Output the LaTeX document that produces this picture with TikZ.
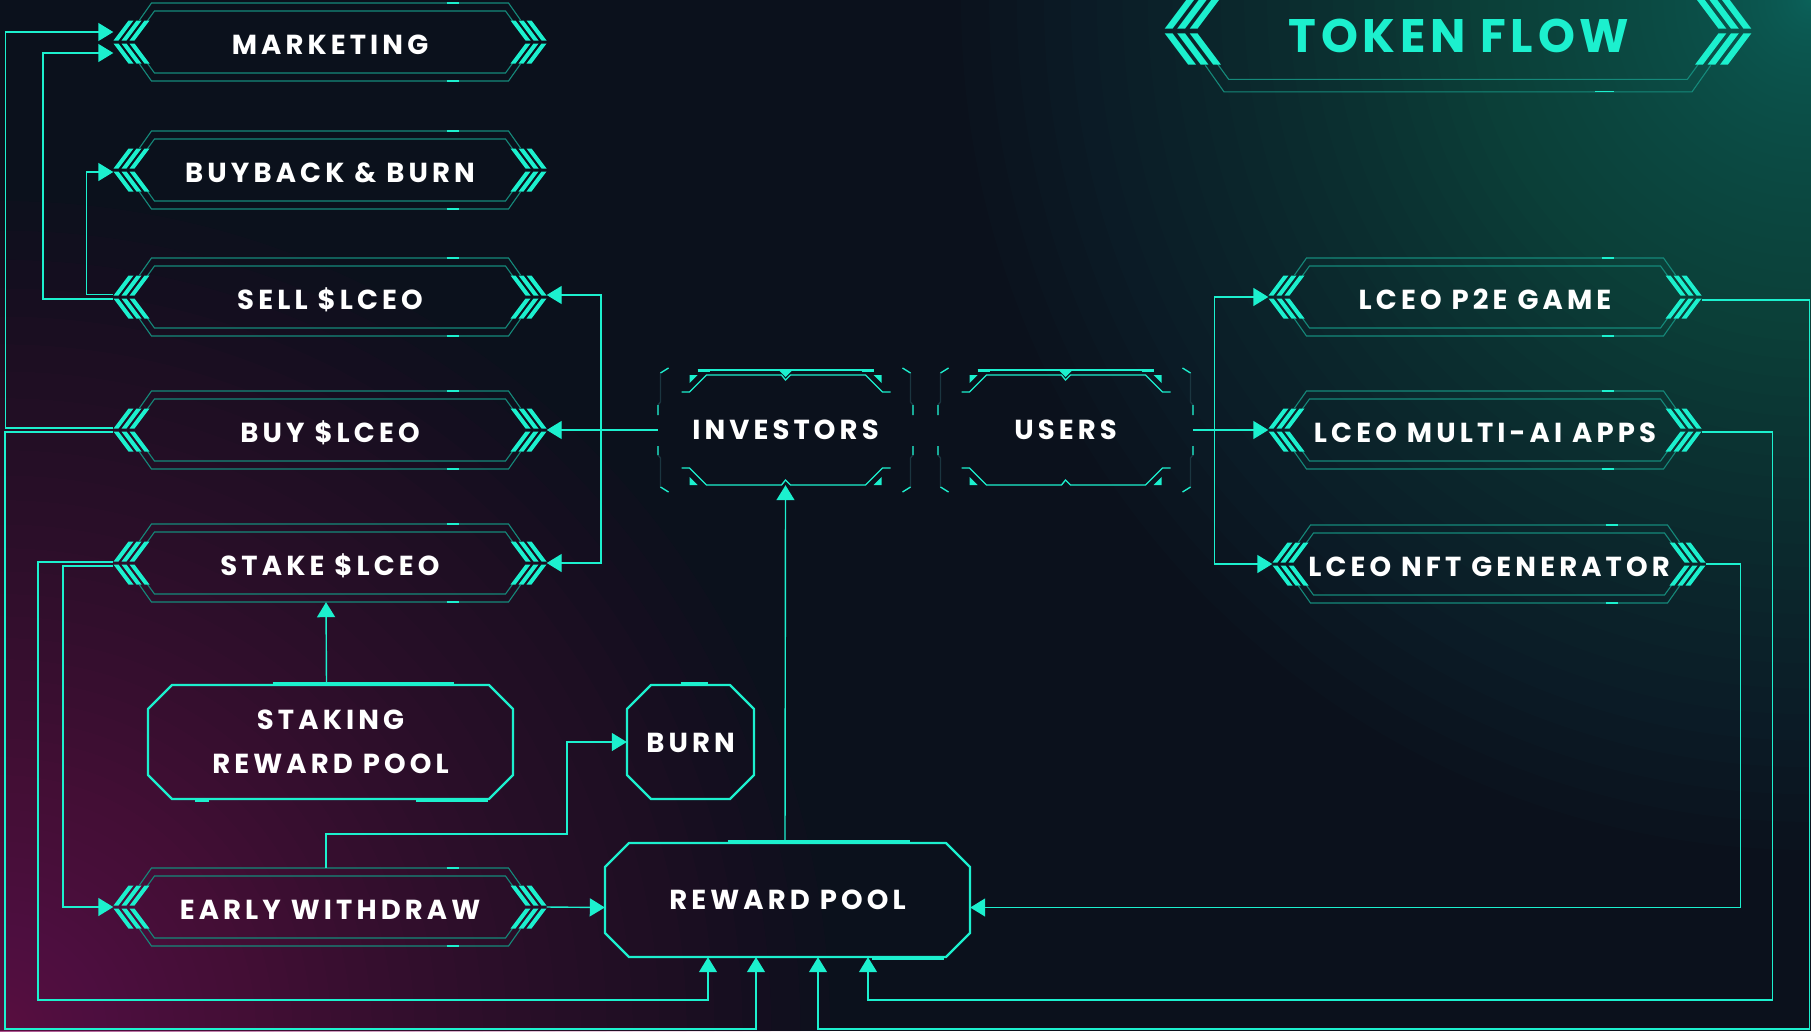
\documentclass[tikz,border=0pt]{standalone}
\usepackage{fontspec}
\setmainfont{Poppins}
\newfontfamily\labelfont{Poppins}[LetterSpace=15]
\newfontfamily\titlefont{Poppins}[LetterSpace=10]
\usetikzlibrary{arrows.meta}
\definecolor{bgnavy}{HTML}{0B111C}
\definecolor{neon}{HTML}{1CF0CE}
\definecolor{dimteal}{HTML}{15897A}
\definecolor{dimline}{HTML}{1B3640}
\definecolor{glowpink}{HTML}{8A0E63}
\definecolor{glowteal}{HTML}{1BA48A}

\tikzset{
  flow/.style={neon, line width=1.4pt, -{Triangle[width=18pt,length=15pt]}},
  boxtext/.style={text=white, inner sep=0pt, font=\labelfont\bfseries\fontsize{27.5}{44}\selectfont},
  chevbox/.style={boxtext, minimum width=433pt, minimum height=78pt, text height=24pt, text depth=0pt},
  hudbox/.style={boxtext, minimum width=255pt, minimum height=110pt, text height=19pt, text depth=0pt},
  octbox/.style={boxtext, minimum width=365pt, minimum height=114pt, align=center},
  titletext/.style={text=neon, inner sep=0pt, font=\titlefont\bfseries\fontsize{47}{50}\selectfont,
    text height=33pt, text depth=0pt},
  framel/.style={dimteal, line width=1.1pt},
  octline/.style={neon, line width=2.4pt, line join=round},
  glint/.style={neon, line width=1.3pt},
  thickbit/.style={neon, line width=4.5pt},
}

% double hex frame with triple chevrons on both ends
\newcommand{\chevdeco}[3][1]{%
  \begin{scope}[shift={(#2.center)}, scale=#1]
    \draw[framel] (-#3+26,22) -- (-#3+38,39) -- (#3-38,39) -- (#3-26,22);
    \draw[framel] (-#3+26,-22) -- (-#3+38,-39) -- (#3-38,-39) -- (#3-26,-22);
    \draw[framel] (-#3+33,20) -- (-#3+41,31) -- (#3-41,31) -- (#3-33,20);
    \draw[framel] (-#3+33,-20) -- (-#3+41,-31) -- (#3-41,-31) -- (#3-33,-20);
    \draw[glint] (#3-100,39) -- (#3-88,39) (#3-100,-39) -- (#3-88,-39);
    \foreach \k in {0,8,16}{
      \fill[neon] (-#3+\k,1.5) -- ++(5,0) -- ++(15,20) -- ++(-5,0) -- cycle;
      \fill[neon] (-#3+\k,-1.5) -- ++(5,0) -- ++(15,-20) -- ++(-5,0) -- cycle;
      \fill[neon] (#3-\k,1.5) -- ++(-5,0) -- ++(-15,20) -- ++(5,0) -- cycle;
      \fill[neon] (#3-\k,-1.5) -- ++(-5,0) -- ++(-15,-20) -- ++(5,0) -- cycle;
    }
  \end{scope}}

% bracket frame of the two source boxes
\newcommand{\hudframe}[1]{%
  \begin{scope}[shift={(#1.center)}]
    \foreach \s in {1,-1}{
      \draw[neon, line width=1.3pt] (-104,38*\s) -- (-96,38*\s) -- (-79,55*\s) -- (-4,55*\s)
        -- (0,50*\s) -- (5,55*\s) -- (80,55*\s) -- (97,38*\s) -- (105,38*\s);
      \fill[neon] (-96,55*\s) -- (-88,55*\s) -- (-96,47*\s) -- cycle;
      \fill[neon] (96,55*\s) -- (88,55*\s) -- (96,47*\s) -- cycle;
      \draw[dimline, line width=1.3pt] (-117*\s,62) -- (-125*\s,57) -- (-125*\s,28)
        -- (-127.5*\s,25) -- (-127.5*\s,15);
      \draw[dimline, line width=1.3pt] (-127.5*\s,-16) -- (-127.5*\s,-25) -- (-125*\s,-28)
        -- (-125*\s,-57) -- (-117*\s,-62);
      \draw[neon, line width=1.3pt] (-117*\s,62) -- (-125*\s,57) (-127.5*\s,25) -- (-127.5*\s,15)
        (-127.5*\s,-16) -- (-127.5*\s,-25) (-125*\s,-57) -- (-117*\s,-62);
    }
    \draw[neon, line width=1.8pt] (-88,60) -- (88,60);
    \draw[neon, line width=3pt] (-88,60) -- (-76,60) (76,60) -- (88,60);
    \fill[neon] (-7,60) -- (7,60) -- (0,53) -- cycle;
  \end{scope}}

% cut-corner border, half width and half height
\newcommand{\octframe}[3]{%
  \begin{scope}[shift={(#1.center)}]
    \draw[octline] (-#2+24,#3) -- (#2-24,#3) -- (#2,#3-24) -- (#2,-#3+24) -- (#2-24,-#3)
      -- (-#2+24,-#3) -- (-#2,-#3+24) -- (-#2,#3-24) -- cycle;
  \end{scope}}

\begin{document}
\begin{tikzpicture}[x=1pt, y=1pt]
  \useasboundingbox (0,0) rectangle (1811,-1031);
  \fill[bgnavy] (0,0) rectangle (1811,-1031);
  \begin{scope}
    \clip (0,0) rectangle (1811,-1031);
    \foreach \i in {1,...,50}{
      \pgfmathsetmacro{\rr}{830*(\i/50)^1.8}
      \fill[glowpink, opacity=0.026] (0,-1031) circle (\rr);
    }
    \foreach \i in {1,...,60}{
      \pgfmathsetmacro{\rr}{850*(\i/60)^2}
      \fill[glowteal, opacity=0.02] (1811,0) circle (\rr);
    }
  \end{scope}

  % boxes
  \coordinate (titlemid) at (1458,-31);
  \node[titletext] (title) at (1459,-36) {TOKEN FLOW};
  \node[chevbox] (mkt) at (330,-42) {MARKETING};
  \node[chevbox] (bbb) at (330,-170) {BUYBACK \& BURN};
  \node[chevbox] (sell) at (330,-297) {SELL \$LCEO};
  \node[chevbox] (buy) at (330,-430) {BUY \$LCEO};
  \node[chevbox] (stake) at (330,-563) {STAKE \$LCEO};
  \node[chevbox] (early) at (330,-907) {EARLY WITHDRAW};
  \node[chevbox] (p2e) at (1485,-297) {LCEO P2E GAME};
  \node[chevbox] (multi) at (1485,-430) {LCEO MULTI-AI APPS};
  \node[chevbox] (nft) at (1489,-564) {LCEO NFT GENERATOR};
  \node[hudbox] (inv) at (785.5,-430) {INVESTORS};
  \node[hudbox] (users) at (1065.5,-430) {USERS};
  \node[octbox] (pool) at (330.5,-742) {STAKING\\REWARD POOL};
  \node[octbox, minimum width=127pt, text height=21pt, text depth=0pt] (burn) at (690.5,-742) {BURN};
  \node[octbox, text height=19pt, text depth=0pt] (reward) at (787.5,-900) {REWARD POOL};

  % frames
  \chevdeco[1.56]{titlemid}{188}
  \foreach \b in {mkt, bbb, sell, buy, stake, early, p2e, multi, nft}
    \chevdeco{\b}{216.5};
  \hudframe{inv}
  \hudframe{users}
  \octframe{pool}{182.5}{57}
  \octframe{burn}{63.5}{57}
  \octframe{reward}{182.5}{57}
  \draw[thickbit] ([xshift=-58pt,yshift=1pt]pool.north) -- ([xshift=123pt,yshift=1pt]pool.north);
  \draw[thickbit] ([xshift=85pt,yshift=-1pt]pool.south) -- ([xshift=157pt,yshift=-1pt]pool.south);
  \draw[thickbit] ([xshift=-136pt,yshift=-1pt]pool.south) -- ([xshift=-122pt,yshift=-1pt]pool.south);
  \draw[thickbit] ([xshift=-10pt,yshift=1pt]burn.north) -- ([xshift=17pt,yshift=1pt]burn.north);
  \draw[thickbit] ([xshift=-60pt,yshift=1pt]reward.north) -- ([xshift=122pt,yshift=1pt]reward.north);
  \draw[thickbit] ([xshift=84pt,yshift=-1pt]reward.south) -- ([xshift=156pt,yshift=-1pt]reward.south);

  % flows
  \draw[flow] ([yshift=2pt]buy.west) -- ++(-108,0) |- ([yshift=10pt]mkt.west);
  \draw[flow] ([yshift=-2pt]sell.west) -- ++(-70.5,0) |- ([yshift=-11pt]mkt.west);
  \draw[flow] ([yshift=2.5pt]sell.west) -- ++(-27,0) |- ([yshift=-2pt]bbb.west);
  \draw[flow] (inv.west) -- (buy.east);
  \draw[flow] (inv.west) -- ++(-57,0) |- ([yshift=2pt]sell.east);
  \draw[flow] (inv.west) -- ++(-57,0) |- (stake.east);
  \draw[flow] (users.east) -- (multi.west);
  \draw[flow] (users.east) -- ++(21,0) |- (p2e.west);
  \draw[flow] (users.east) -- ++(21,0) |- (nft.west);
  \draw[flow] ([yshift=-3pt]p2e.east) -- ++(108,0) -- ++(0,-729) -| ([xshift=30.5pt]reward.south);
  \draw[flow] ([yshift=-2pt]multi.east) -- ++(70.5,0) -- ++(0,-568) -| ([xshift=80.5pt]reward.south);
  \draw[flow] (nft.east) -- ++(34.5,0) |- ([yshift=-7.5pt]reward.east);
  \draw[flow] ([yshift=-3pt]stake.west) -- ++(-50.5,0) |- (early.west);
  \draw[flow] ([yshift=1pt]stake.west) -- ++(-75.5,0) -- ++(0,-438) -| ([xshift=-79.5pt]reward.south);
  \draw[flow] ([yshift=-2pt]buy.west) -- ++(-108.5,0) -- ++(0,-597) -| ([xshift=-31.5pt]reward.south);
  \draw[flow] (early.east) -- ([yshift=-7.5pt]reward.west);
  \draw[flow] ([xshift=-4pt]early.north) -- ++(0,34) -- ++(241,0) |- (burn.west);
  \draw[flow] ([xshift=-4pt]pool.north) -- ([xshift=-4pt]stake.south);
  \draw[flow] ([xshift=-2.5pt]reward.north) -- (inv.south);
\end{tikzpicture}
\end{document}
